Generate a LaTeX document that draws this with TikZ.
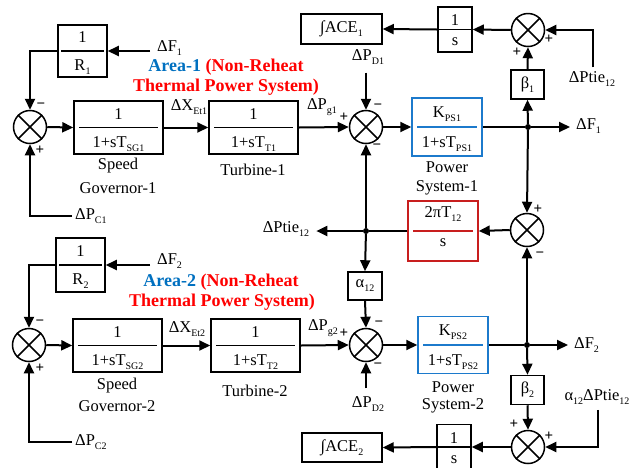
\documentclass[tikz,border=0pt]{standalone}
\usepackage{fontspec}
\setmainfont{Liberation Serif}
\usetikzlibrary{arrows.meta,calc}
\definecolor{areablue}{RGB}{0,112,192}
\definecolor{areared}{RGB}{255,0,0}
\definecolor{psblue}{RGB}{28,122,204}
\definecolor{tiered}{RGB}{200,30,30}
\newcommand{\lo}[1]{\raisebox{-0.55ex}{\fontsize{10}{10}\selectfont #1}}
\def\finset{6}
\newcommand{\fracblk}[9]{%
  \node[blk, draw=#5, minimum width=#3pt, minimum height=#4pt] (#1) at (#2) {};
  \draw[line width=1.5pt, draw=#5] ([xshift=\finset pt]#1.west) -- ([xshift=-\finset pt]#1.east);
  \node[lbl, anchor=base] (#1-n) at ([yshift=#8pt]#1.center) {#6};
  \node[lbl, anchor=base] (#1-d) at ([yshift=-#9pt]#1.center) {#7};
}
\newcommand{\sumnode}[2]{%
  \node[sumc] (#1) at (#2) {};
  \draw[line width=1.5pt] (#1.north west) -- (#1.south east) (#1.north east) -- (#1.south west);
}
\tikzset{
  blk/.style={draw, line width=1.5pt, inner sep=0pt},
  sumc/.style={draw, circle, line width=1.5pt, minimum size=33pt, inner sep=0pt},
  conn/.style={line width=2pt},
  arr/.style={line width=2pt, -{Triangle[length=11pt,width=10pt]}},
  lbl/.style={font=\fontsize{16.5}{18}\selectfont, inner sep=0pt},
  sgn/.style={font=\fontsize{15}{15}\selectfont\bfseries, inner sep=0pt},
  areal/.style={font=\fontsize{18}{20}\selectfont\bfseries, text=areared, inner sep=0pt},
  dot/.style={circle, fill, inner sep=0pt, minimum size=6pt},
}
\begin{document}
\begin{tikzpicture}[x=1pt,y=-1pt]
\useasboundingbox (0,0) rectangle (640,467);

% ---------- blocks ----------
\def\finset{4}
\fracblk{R1}{82.5,51}{49}{52}{black}{1}{R\lo{1}}{9}{19}
\fracblk{R2}{80.5,265}{49}{54}{black}{1}{R\lo{2}}{9}{19}
\def\finset{6}
\fracblk{SG1}{118.5,127.5}{89}{53}{black}{1}{1+sT\lo{SG1}}{8}{20}
\fracblk{T1}{253.5,127.5}{89}{53}{black}{1}{1+sT\lo{T1}}{8}{20}
\fracblk{PS1}{447,127}{70}{58}{psblue}{K\lo{PS1}}{1+sT\lo{PS1}}{10}{20}
\fracblk{TIE}{443,231}{70}{60}{tiered}{2πT\lo{12}}{s}{14}{15}
\fracblk{SG2}{117.5,345.5}{89}{53}{black}{1}{1+sT\lo{SG2}}{8}{20}
\fracblk{T2}{255.5,345.5}{89}{53}{black}{1}{1+sT\lo{T2}}{8}{20}
\fracblk{PS2}{453,345}{70}{57}{psblue}{K\lo{PS2}}{1+sT\lo{PS2}}{10}{20}
\def\finset{0}
\fracblk{I1}{455,29.5}{34}{45}{black}{1}{s}{4}{16}
\fracblk{I2}{454,447}{34}{45}{black}{1}{s}{4}{16}

\node[blk, lbl, minimum width=81pt, minimum height=30pt] (ACE1) at (341.5,29) {∫ACE\lo{1}};
\node[blk, lbl, minimum width=80pt, minimum height=29pt] (ACE2) at (342,447.5) {∫ACE\lo{2}};
\node[blk, lbl, minimum width=33pt, minimum height=29pt] (B1) at (527.5,84.5) {β\lo{1}};
\node[blk, lbl, minimum width=33pt, minimum height=29pt] (B2) at (527.5,390) {β\lo{2}};
\node[blk, lbl, minimum width=34pt, minimum height=28pt] (A12) at (365,286) {α\lo{12}};

\sumnode{S1}{30,127}
\sumnode{S2}{366,127}
\sumnode{S3}{528,30}
\sumnode{S4}{527,230}
\sumnode{S5}{366,345}
\sumnode{S6}{528,447}
\sumnode{S7}{29,345}

\node[dot] (J1) at (528,127) {};
\node[dot] (J2) at (366,231) {};
\node[dot] (J3) at (527,345) {};

% labels
\node[lbl, anchor=west] (LF1) at (157,48) {ΔF\lo{1}};
\node[lbl, anchor=west] (LPC1) at (75,216) {ΔP\lo{C1}};
\node[lbl] (LX1) at (189,107) {ΔX\lo{Et1}};
\node[lbl] (LPG1) at (322,107) {ΔP\lo{g1}};
\node[lbl] (LPD1) at (368,57) {ΔP\lo{D1}};
\node[lbl, anchor=west] (LF1o) at (576,126) {ΔF\lo{1}};
\node[lbl] (LTIE1) at (592,79) {ΔPtie\lo{12}};
\node[lbl] (LTIEo) at (286,229) {ΔPtie\lo{12}};
\node[lbl] (SPD1) at (118,166) {Speed};
\node[lbl] (GOV1) at (118,188) {Governor-1};
\node[lbl] (TUR1) at (253,170) {Turbine-1};
\node[lbl] (POW1) at (447,167) {Power};
\node[lbl] (SYS1) at (447,188) {System-1};
\node[areal] (AR1a) at (226,67) {\textcolor{areablue}{Area-1} (Non-Reheat};
\node[areal] (AR1b) at (226,87) {Thermal Power System)};

\node[lbl, anchor=west] (LF2) at (157,261) {ΔF\lo{2}};
\node[lbl, anchor=west] (LPC2) at (75,442) {ΔP\lo{C2}};
\node[lbl] (LX2) at (187,329) {ΔX\lo{Et2}};
\node[lbl] (LPG2) at (323,328) {ΔP\lo{g2}};
\node[lbl] (LPD2) at (368,404) {ΔP\lo{D2}};
\node[lbl, anchor=west] (LF2o) at (574,345) {ΔF\lo{2}};
\node[lbl] (LATIE) at (597,397) {α\lo{12}ΔPtie\lo{12}};
\node[lbl] (SPD2) at (117,386) {Speed};
\node[lbl] (GOV2) at (117,406) {Governor-2};
\node[lbl] (TUR2) at (255,391) {Turbine-2};
\node[lbl] (POW2) at (453,387) {Power};
\node[lbl] (SYS2) at (453,406) {System-2};
\node[areal] (AR2a) at (221,282) {\textcolor{areablue}{Area-2} (Non-Reheat};
\node[areal] (AR2b) at (222,302) {Thermal Power System)};

% signs
\node[sgn] (g1) at (41,106) {−};
\node[sgn] (g2) at (40,150) {+};
\node[sgn] (g3) at (344,117) {+};
\node[sgn] (g4) at (378,107) {−};
\node[sgn] (g5) at (377,147) {−};
\node[sgn] (g6) at (517,52) {+};
\node[sgn] (g7) at (549,39) {+};
\node[sgn] (g8) at (538,209) {+};
\node[sgn] (g9) at (540,255) {−};
\node[sgn] (g10) at (344,333) {+};
\node[sgn] (g11) at (379,324) {−};
\node[sgn] (g12) at (378,366) {−};
\node[sgn] (g13) at (514,424) {+};
\node[sgn] (g14) at (549,436) {+};
\node[sgn] (g15) at (40,323) {−};
\node[sgn] (g16) at (40,368) {+};

% connectors area 1
\draw[arr, shorten <=7pt] (LF1.west |- R1.east) -- (R1.east);
\draw[arr] (R1.west) -| (S1.north);
\draw[arr, shorten <=3pt] (LPC1.west) -| (S1.south);
\draw[arr] (S1.east) -- (SG1.west);
\draw[arr] (SG1.east) -- (T1.west);
\draw[arr] (T1.east) -- (S2.west);
\draw[arr, shorten <=8pt] (LPD1.south -| S2.north) -- (S2.north);
\draw[arr] (S2.east) -- (PS1.west);
\draw[conn] (PS1.east) -- (J1);
\draw[arr, shorten >=6pt] (J1) -- (LF1o.west |- J1);
\draw[arr] (J1) -- (B1.south);
\draw[arr] (B1.north) -- (S3.south);
\draw[arr, shorten <=4pt] ([xshift=1pt]LTIE1.north) |- (S3.east);
\draw[arr] (S3.west) -- (I1.east);
\draw[arr] (I1.west) -- (ACE1.east);
\draw[arr] (J1) -- (S4.north);
\draw[arr] (S4.west) -- (TIE.east);
\draw[conn] (TIE.west) -- (J2);
\draw[arr, shorten >=7pt] (J2) -- (LTIEo.east |- J2);
\draw[arr] (J2) -- (S2.south);
\draw[arr] (J2) -- (A12.north);
\draw[arr] (A12.south) -- (S5.north);

% connectors area 2
\draw[arr, shorten <=7pt] (LF2.west |- R2.east) -- (R2.east);
\draw[arr] (R2.west) -| (S7.north);
\draw[arr, shorten <=3pt] (LPC2.west) -| (S7.south);
\draw[arr] (S7.east) -- (SG2.west);
\draw[arr] (SG2.east) -- (T2.west);
\draw[arr] (T2.east) -- (S5.west);
\draw[arr, shorten <=8pt] (LPD2.north -| S5.south) -- (S5.south);
\draw[arr] (S5.east) -- (PS2.west);
\draw[conn] (PS2.east) -- (J3);
\draw[arr, shorten >=6pt] (J3) -- (LF2o.west |- J3);
\draw[arr] (J3) -- (S4.south);
\draw[arr] (J3) -- (B2.north);
\draw[arr] (B2.south) -- (S6.north);
\draw[arr, shorten <=5pt] ([xshift=1pt]LATIE.south) |- (S6.east);
\draw[arr] (S6.west) -- (I2.east);
\draw[arr] (I2.west) -- (ACE2.east);
\end{tikzpicture}
\end{document}
